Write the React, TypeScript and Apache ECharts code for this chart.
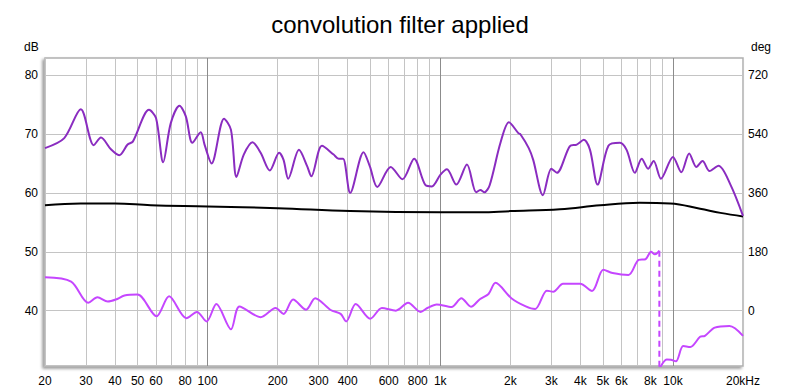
import React, { useEffect, useRef } from "react";
import * as echarts from "echarts";

const FONT = "'Liberation Sans', Arial, sans-serif";

// Frequency axis ticks (Hz)
const xLabelFreqs = [20, 30, 40, 50, 60, 80, 100, 200, 300, 400, 600, 800, 1000, 2000, 3000, 4000, 5000, 6000, 8000, 10000, 20000];
const xMinorGridFreqs = [20, 30, 40, 50, 60, 70, 80, 90, 200, 300, 400, 500, 600, 700, 800, 900, 2000, 3000, 4000, 5000, 6000, 7000, 8000, 9000, 20000];
const xMajorGridFreqs = [100, 1000, 10000];
const dbTicks = [40, 50, 60, 70, 80];
const degTicks = [0, 180, 360, 540, 720];

// Magnitude (purple) dB
const magFreq = [20, 24.2, 28.5, 32.4, 34.8, 38.4, 41.7, 45.3, 47.7, 56, 60, 64.4, 69.4, 75.7, 80.6, 86, 93.4, 97, 104, 117.6, 126, 133, 143, 156, 169, 185, 203, 212, 222, 247, 268, 279, 310, 348, 366, 382, 410, 468, 498, 536, 612, 688, 772, 864, 920, 1002, 1068, 1172, 1302, 1426, 1486, 1548, 1630, 1814, 1972, 2170, 2206, 2400, 2508, 2760, 3000, 3170, 3600, 3860, 4140, 4400, 4740, 5280, 5920, 6320, 6860, 7340, 7820, 8260, 8880, 10000, 10860, 11740, 12600, 13400, 14360, 15700, 17660, 20000];
const magDb = [67.6, 69.3, 74.2, 68.1, 69.4, 67.4, 66.4, 68.2, 68.7, 74.1, 72.7, 65.2, 71.8, 74.8, 73.0, 68.5, 70.3, 68.2, 65.0, 72.6, 70.7, 62.7, 66.5, 68.6, 66.8, 63.8, 66.8, 65.6, 62.4, 67.3, 64.5, 62.8, 68.0, 66.5, 65.8, 65.8, 60.0, 66.9, 64.5, 61.0, 64.4, 62.3, 65.8, 61.3, 61.1, 63.1, 64.0, 61.4, 64.8, 60.1, 60.5, 60.1, 61.3, 68.5, 72.0, 70.1, 70.0, 67.6, 65.6, 59.6, 64.1, 63.4, 67.9, 68.2, 69.0, 67.3, 61.4, 68.0, 68.5, 67.3, 63.4, 65.8, 64.1, 65.4, 62.4, 66.1, 63.5, 66.7, 64.4, 65.4, 63.7, 64.6, 61.4, 56.1];

// Second magnitude (black) dB
const refFreq = [20, 28.5, 40, 57, 100, 200, 410, 1000, 1486, 2000, 3270, 4870, 7200, 9740, 13080, 16000, 20000];
const refDb = [57.9, 58.2, 58.2, 57.9, 57.7, 57.4, 56.9, 56.7, 56.7, 56.9, 57.2, 57.9, 58.3, 58.2, 57.3, 56.6, 56.0];

// Phase (deg), before wrap
const phaseFreqA = [20, 25.9, 30.7, 33.6, 37.2, 40.3, 43.9, 50, 60.3, 68.3, 81, 90, 99, 109, 126, 137, 169, 196, 212, 233, 265, 290, 338, 373, 394, 433, 500, 561, 644, 727, 823, 880, 965, 1118, 1232, 1355, 1479, 1612, 1727, 2020, 2330, 2558, 2870, 3060, 3370, 3990, 4490, 5020, 5500, 6440, 7120, 7620, 8050, 8360, 8740];
const phaseDegA = [102, 89, 24, 41, 28, 34, 46, 49, -17, 44, -23, -4, -33, 20, -57, 13, -20, 8, -10, 34, 3, 38, 2, -10, -33, 20, -25, 8, 0, 24, -4, 8, 19, 11, 38, 12, 35, 51, 85, 38, 13, 5, 61, 58, 82, 82, 60, 125, 115, 109, 155, 157, 180, 172, 183];
// Phase wrap marker
const wrapFreq = [8740, 8740];
const wrapDeg = [183, -177];
// Phase after wrap
const phaseFreqB = [8760, 9400, 9800, 10300, 11060, 11880, 13080, 13720, 15120, 17500, 20000];
const phaseDegB = [-177, -149, -150, -155, -108, -111, -80, -77, -52, -47, -77];

const DB_MIN = 30.6;
const DB_MAX = 82.9;
const toDeg = (db: number) => (db - 40) * 18;

const lg = (f: number) => Math.log10(f);
const pairs = (fs: number[], vs: number[]) => fs.map((f, i) => [lg(f), vs[i]]);

const fmtFreq = (v: number) => {
  const f = Math.round(Math.pow(10, v));
  if (f >= 20000) return "20kHz";
  if (f >= 1000) return f / 1000 + "k";
  return String(f);
};

export default function App() {
  const ref = useRef<HTMLDivElement>(null);
  useEffect(() => {
    if (!ref.current) return;
    const chart = echarts.init(ref.current, undefined, { renderer: "svg" });
    const xMin = lg(20);
    const xMax = lg(20000);
    chart.setOption({
      animation: false,
      backgroundColor: "#fff",
      textStyle: { fontFamily: FONT },
      title: {
        text: "convolution filter applied",
        left: "center",
        top: 7,
        textStyle: { fontFamily: FONT, fontSize: 24, fontWeight: "normal", color: "#000" },
      },
      graphic: [
        { type: "text", left: 24, top: 41, style: { text: "dB", font: `12px ${FONT}`, fill: "#000" } },
        { type: "text", left: 751, top: 41, style: { text: "deg", font: `12px ${FONT}`, fill: "#000" } },
      ],
      grid: {
        left: 45,
        right: 57,
        top: 58,
        bottom: 24,
        show: true,
        backgroundColor: "#fff",
        borderColor: "#b0b0b0",
        borderWidth: 1.5,
        shadowColor: "rgba(0,0,0,0.4)",
        shadowBlur: 3,
        shadowOffsetX: -2,
        shadowOffsetY: 2,
      },
      xAxis: [
        {
          type: "value",
          min: xMin,
          max: xMax,
          axisLine: { show: false },
          axisTick: { show: false, customValues: xMinorGridFreqs.map(lg) },
          axisLabel: {
            customValues: xLabelFreqs.map(lg),
            formatter: fmtFreq,
            color: "#000",
            fontSize: 12,
            fontFamily: FONT,
            margin: 9,
          },
          splitLine: { show: true, lineStyle: { color: "#c4c4c4", width: 1 } },
        },
        {
          type: "value",
          min: xMin,
          max: xMax,
          position: "bottom",
          axisLine: { show: false },
          axisTick: { show: false, customValues: xMajorGridFreqs.map(lg) },
          axisLabel: { show: false },
          splitLine: { show: true, lineStyle: { color: "#8c8c8c", width: 1 } },
        },
      ],
      yAxis: [
        {
          type: "value",
          min: DB_MIN,
          max: DB_MAX,
          axisLine: { show: false },
          axisTick: { show: false, customValues: dbTicks },
          axisLabel: { customValues: dbTicks, color: "#000", fontSize: 12, fontFamily: FONT, margin: 7 },
          splitLine: { show: true, lineStyle: { color: "#c4c4c4", width: 1 } },
        },
        {
          type: "value",
          min: toDeg(DB_MIN),
          max: toDeg(DB_MAX),
          position: "right",
          axisLine: { show: false },
          axisTick: { show: false, customValues: degTicks },
          axisLabel: { customValues: degTicks, color: "#000", fontSize: 12, fontFamily: FONT, margin: 5 },
          splitLine: { show: false },
        },
      ],
      series: [
        {
          name: "ref",
          type: "line",
          xAxisIndex: 0,
          yAxisIndex: 0,
          data: pairs(refFreq, refDb),
          smooth: 0.4,
          showSymbol: false,
          lineStyle: { color: "#000", width: 2 },
          z: 3,
        },
        {
          name: "phaseA",
          type: "line",
          xAxisIndex: 0,
          yAxisIndex: 1,
          data: pairs(phaseFreqA, phaseDegA),
          smooth: 0.3,
          showSymbol: false,
          lineStyle: { color: "#c546ff", width: 2 },
          z: 4,
        },
        {
          name: "wrap",
          type: "line",
          xAxisIndex: 0,
          yAxisIndex: 1,
          data: pairs(wrapFreq, wrapDeg),
          showSymbol: false,
          lineStyle: { color: "#c546ff", width: 2, type: [6, 4] },
          z: 4,
        },
        {
          name: "phaseB",
          type: "line",
          xAxisIndex: 0,
          yAxisIndex: 1,
          data: pairs(phaseFreqB, phaseDegB),
          smooth: 0.3,
          showSymbol: false,
          lineStyle: { color: "#c546ff", width: 2 },
          z: 4,
        },
        {
          name: "magnitude",
          type: "line",
          xAxisIndex: 0,
          yAxisIndex: 0,
          data: pairs(magFreq, magDb),
          smooth: 0.3,
          showSymbol: false,
          lineStyle: { color: "#8a2cc0", width: 2 },
          z: 5,
        },
      ],
    });
    return () => chart.dispose();
  }, []);
  return <div ref={ref} style={{ width: 800, height: 390, position: "absolute", left: 0, top: 0 }} />;
}
